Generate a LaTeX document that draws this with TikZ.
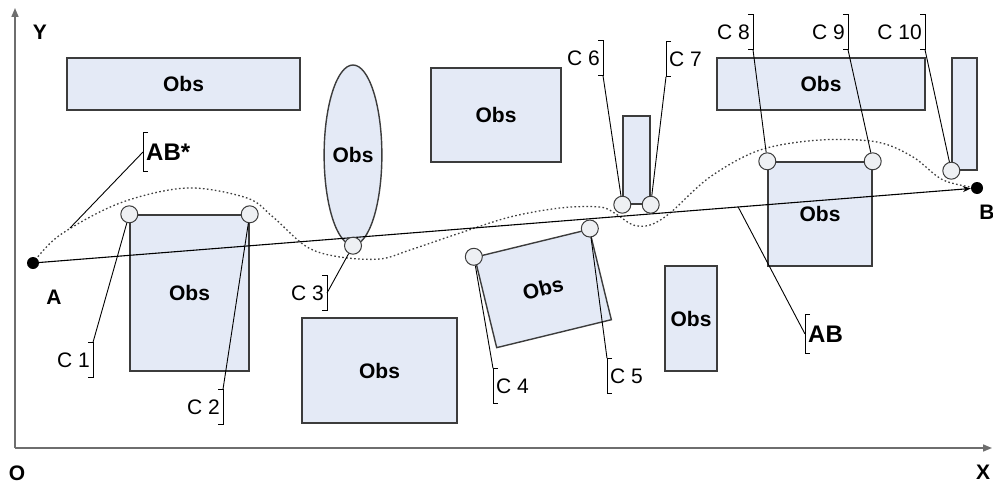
\documentclass[tikz,border=0pt]{standalone}
\usepackage{fontspec}
\setmainfont{Liberation Sans}
\usetikzlibrary{shapes.geometric,arrows.meta,calc}
\definecolor{obsfill}{HTML}{E4EAF6}
\definecolor{obsline}{HTML}{3C3C3C}
\definecolor{axisgray}{HTML}{6E6E6E}
\definecolor{wpfill}{HTML}{EEF0F3}
\newcommand\RBrk[1]{\draw[brk] ([xshift=-5pt]#1.north east) -- (#1.north east) -- (#1.south east) -- ([xshift=-5pt]#1.south east);}
\newcommand\LBrk[1]{\draw[brk] ([xshift=5pt]#1.north west) -- (#1.north west) -- (#1.south west) -- ([xshift=5pt]#1.south west);}
\begin{document}
\begin{tikzpicture}[x=1pt,y=-1pt,
 obs/.style={draw=obsline, fill=obsfill, line width=1.4pt, inner sep=0pt, font=\fontsize{21}{24}\selectfont\bfseries},
 wp/.style={circle, draw=obsline, fill=wpfill, line width=1pt, minimum size=17pt, inner sep=0pt},
 endpt/.style={circle, fill=black, minimum size=12pt, inner sep=0pt},
 clab/.style={font=\fontsize{21}{24}\selectfont, minimum height=35pt, inner xsep=3pt, inner ysep=0pt},
 ablab/.style={font=\fontsize{24}{28}\selectfont\bfseries, minimum height=38pt, inner xsep=3pt, inner ysep=0pt},
 lead/.style={line width=0.9pt},
 brk/.style={line width=1pt},
 ax/.style={draw=axisgray, line width=1.6pt, -{Triangle[length=9pt,width=7pt]}},
 axlab/.style={font=\fontsize{21}{24}\selectfont\bfseries},
 pathdot/.style={draw=black!75, line width=1.3pt, dash pattern=on 1.6pt off 2.4pt}
]
\useasboundingbox (0,0) rectangle (993,487);

% axes
\coordinate (O) at (15,448);
\coordinate (Ytip) at (15,8);
\coordinate (Xtip) at (992,448);
\draw[ax] (O) -- (Ytip);
\draw[ax] (O) -- (Xtip);
\node[axlab] (Ylab) at (40,32) {Y};
\node[axlab] (Olab) at (17,473) {O};
\node[axlab] (Xlab) at (983,472) {X};

% obstacles
\node[obs, minimum width=233pt, minimum height=52pt] (o1) at (183.5,84) {Obs};
\node[obs, minimum width=119pt, minimum height=156pt] (o2) at (189.5,293) {Obs};
\node[obs, ellipse, minimum width=53pt, minimum height=180pt] (o3) at (353,155) {Obs};
\node[obs, minimum width=155pt, minimum height=105pt] (o4) at (379.5,370.5) {Obs};
\node[obs, minimum width=130pt, minimum height=94pt] (o5) at (496,115) {Obs};
\node[obs, rotate=13.7, minimum width=118pt, minimum height=93pt] (o6) at (543,288.5) {Obs};
\node[obs, minimum width=52pt, minimum height=105pt] (o7) at (691,318.5) {Obs};
\node[obs, minimum width=27pt, minimum height=88pt] (o8) at (636.5,160) {};
\node[obs, minimum width=208pt, minimum height=52pt] (o9) at (821,84) {Obs};
\node[obs, minimum width=104pt, minimum height=104pt] (o10) at (820,214) {Obs};
\node[obs, minimum width=25pt, minimum height=112pt] (o11) at (964.5,114) {};

% dotted path AB*
\draw[pathdot] plot[smooth, tension=0.55] coordinates {(33,263) (60,235) (120,203) (187,188) (247,198) (273,217) (307,247) (340,257) (380,259) (410,250) (460,233) (510,217) (560,208) (600,207) (616,214) (633,225) (650,225) (670,213) (710,177) (760,150) (820,140) (877,142) (913,157) (943,180) (977,188)};

% endpoints and straight line AB
\node[endpt] (A) at (33,263) {};
\node[endpt] (B) at (977,188) {};
\node[axlab] (Alab) at (54,297) {A};
\node[axlab] (Blab) at (987,212) {B};
\draw[line width=1.1pt, -{Stealth[length=8pt,width=6pt]}] (A) -- (B);
\coordinate (abpt) at ($(A)!0.747!(B)$);
\coordinate (abspt) at (70,228);

% waypoints
\node[wp] (c1) at (o2.north west) {};
\node[wp] (c2) at (o2.north east) {};
\node[wp] (c3) at (o3.south) {};
\node[wp] (c4) at (o6.north west) {};
\node[wp] (c5) at (o6.north east) {};
\node[wp] (c6) at (o8.south west) {};
\node[wp] (c7) at (o8.south east) {};
\node[wp] (c8) at (o10.north west) {};
\node[wp] (c9) at (o10.north east) {};
\node[wp] (c10) at (o11.south west) {};

% labels
\node[clab, anchor=east] (l1) at (93,360) {C 1};
\node[clab, anchor=east] (l2) at (223,407) {C 2};
\node[clab, anchor=east] (l3) at (327,293) {C 3};
\node[clab, anchor=west] (l4) at (493,386) {C 4};
\node[clab, anchor=west] (l5) at (607,376) {C 5};
\node[clab, anchor=east] (l6) at (603,58) {C 6};
\node[clab, anchor=west] (l7) at (666,59) {C 7};
\node[clab, anchor=east] (l8) at (753,32) {C 8};
\node[clab, anchor=east] (l9) at (848,32) {C 9};
\node[clab, anchor=east] (l10) at (925,32) {C 10};
\node[ablab, anchor=west] (lab) at (805,334) {AB};
\node[ablab, anchor=west] (labs) at (143,152) {AB*};
\RBrk{l1} \RBrk{l2} \RBrk{l3} \LBrk{l4} \LBrk{l5} \RBrk{l6} \LBrk{l7} \RBrk{l8} \RBrk{l9} \RBrk{l10} \LBrk{lab} \LBrk{labs}

% leaders
\draw[lead] (l1.north east) -- (c1);
\draw[lead] (l2.north east) -- (c2);
\draw[lead] (l3.east) -- (c3);
\draw[lead] (l4.north west) -- (c4);
\draw[lead] (l5.north west) -- (c5);
\draw[lead] (l6.south east) -- (c6);
\draw[lead] (l7.south west) -- (c7);
\draw[lead] (l8.south east) -- (c8);
\draw[lead] (l9.south east) -- (c9);
\draw[lead] (l10.south east) -- (c10);
\draw[lead] (lab.west) -- (abpt);
\draw[lead] (labs.west) -- (abspt);
\end{tikzpicture}
\end{document}
